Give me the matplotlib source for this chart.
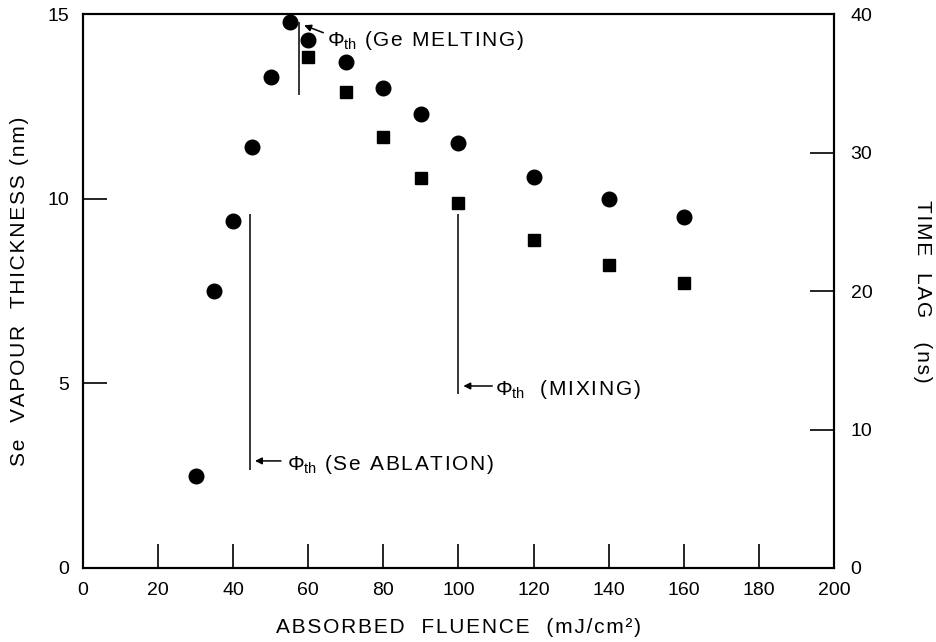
import matplotlib.pyplot as plt

plt.rcParams['font.family'] = ['Liberation Sans', 'DejaVu Sans']
plt.rcParams['mathtext.fontset'] = 'custom'
plt.rcParams['mathtext.rm'] = 'Liberation Sans'
plt.rcParams['mathtext.it'] = 'Liberation Sans:italic'

# Se vapour thickness (nm), left axis
fluence_c = [30, 35, 40, 45, 50, 55, 60, 70, 80, 90, 100, 120, 140, 160]
thickness = [2.5, 7.5, 9.4, 11.4, 13.3, 14.8, 14.3, 13.7, 13.0, 12.3, 11.5, 10.6, 10.0, 9.5]

# time lag (ns), right axis
fluence_s = [60, 70, 80, 90, 100, 120, 140, 160]
time_lag = [36.9, 34.4, 31.1, 28.2, 26.4, 23.7, 21.9, 20.6]

# threshold lines: x, y range (nm)
thresholds = [(57.6, 12.8, 14.8), (44.5, 2.65, 9.6), (100, 4.7, 9.6)]


def spaced(s, sp='\u200a'):
    # wide letter spacing like the original typesetting
    return sp.join(s)


fig = plt.figure(figsize=(9.36, 6.42), dpi=100)
ax = fig.add_axes([0.0887, 0.1153, 0.8023, 0.8625])
ax2 = ax.twinx()

ax.plot(fluence_c, thickness, 'o', color='k', markersize=10.5, zorder=3)
ax2.plot(fluence_s, time_lag, 's', color='k', markersize=9, zorder=3)

ax.set_xlim(0, 200)
ax.set_ylim(0, 15)
ax2.set_ylim(0, 40)

ax.set_xticks(range(0, 201, 20))
ax.set_yticks([0, 5, 10, 15])
ax2.set_yticks([0, 10, 20, 30, 40])

ax.tick_params(axis='x', direction='in', length=17, width=1.2, labelsize=14, pad=10, top=False)
ax.tick_params(axis='y', direction='in', length=17, width=1.2, labelsize=14, pad=10)
ax2.tick_params(axis='y', direction='in', length=17, width=1.2, labelsize=14, pad=12)

for a in (ax, ax2):
    for s in a.spines.values():
        s.set_linewidth(1.5)

ax.set_xlabel(spaced('ABSORBED  FLUENCE  (mJ/cm²)'), fontsize=15, labelpad=14)
ax.set_ylabel(spaced('Se  VAPOUR  THICKNESS (nm)'), fontsize=15, labelpad=13)
ax2.set_ylabel(spaced('TIME  LAG   (ns)'), fontsize=15, rotation=-90, labelpad=43)

for x, y0, y1 in thresholds:
    ax.vlines(x, y0, y1, color='k', lw=1.1)

arrow = dict(arrowstyle='-|>', color='k', lw=1.1, mutation_scale=10, shrinkA=0, shrinkB=0)
ax.annotate('', xy=(58.9, 14.7), xytext=(64.0, 14.5), arrowprops=arrow)
ax.text(65.0, 14.3, r'$\Phi_{\rm th}$' + spaced(' (Ge MELTING)'), fontsize=15, va='center')

ax.annotate('', xy=(45.8, 2.9), xytext=(52.7, 2.9), arrowprops=arrow)
ax.text(54.4, 2.8, r'$\Phi_{\rm th}$' + spaced(' (Se ABLATION)'), fontsize=15, va='center')

ax.annotate('', xy=(101.3, 4.93), xytext=(109.0, 4.93), arrowprops=arrow)
ax.text(109.6, 4.83, r'$\Phi_{\rm th}$' + spaced('  (MIXING)'), fontsize=15, va='center')

fig.savefig('out.png', dpi=100)
